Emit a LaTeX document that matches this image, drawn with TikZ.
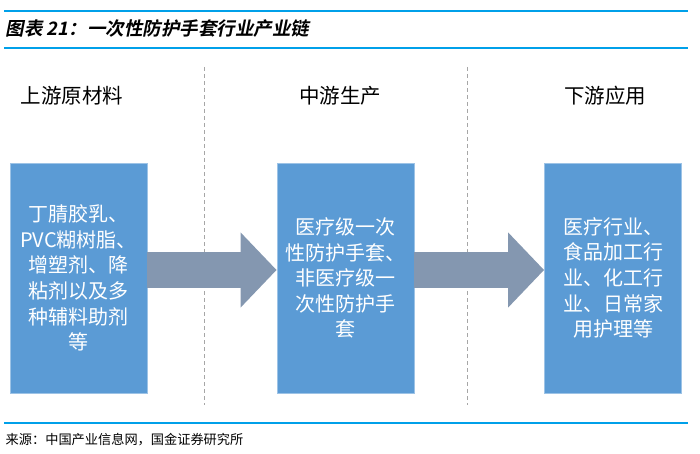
\documentclass[tikz,border=0pt]{standalone}
\usepackage{fontspec}
\setmainfont{Noto Sans CJK SC}
\newfontfamily\titlefont[FakeSlant=0.2]{Noto Sans CJK SC Bold}
\usetikzlibrary{arrows.meta}
\definecolor{rulecol}{HTML}{00A0E9}
\definecolor{boxcol}{HTML}{5B9BD5}
\definecolor{arrowcol}{HTML}{8497B0}
\tikzset{every picture/.style={line width=0.75pt}}

\begin{document}
\begin{tikzpicture}[x=1pt, y=-1pt,
    stagebox/.style={rectangle, fill=boxcol, draw=boxcol!60!white, line width=0.8pt,
        minimum width=137pt, minimum height=230pt, inner sep=0pt,
        text=white, align=center, font=\fontsize{20}{25.6}\selectfont},
    stagehead/.style={font=\fontsize{20.5}{22}\selectfont},
    flow/.style={arrowcol, line width=36pt, -{Triangle[length=36pt, width=73pt]}},
    divider/.style={gray!70, line width=0.6pt, dash pattern=on 4pt off 3pt}]
        \useasboundingbox (0,0) rectangle (700,454);
        % title and rules
        \draw[rulecol, line width=2.5pt] (4,11) -- (688,11);
        \draw[rulecol, line width=2pt] (4,48) -- (688,48);
        \draw[rulecol, line width=2pt] (4,423) -- (688,423);
        \node[anchor=west, font=\titlefont\fontsize{18.5}{20}\selectfont] (title) at (2,29)
            {图表 21：一次性防护手套行业产业链};
        \node[anchor=west, font=\fontsize{13.2}{15}\selectfont] (source) at (2,440)
            {来源：中国产业信息网，国金证券研究所};
        % dividers
        \draw[divider] (204,67) -- (204,405);
        \draw[divider] (467,67) -- (467,405);
        % stage headings
        \node[stagehead] (h1) at (72,96)  {上游原材料};
        \node[stagehead] (h2) at (340,96) {中游生产};
        \node[stagehead] (h3) at (605,96) {下游应用};
        % stages
        \node[stagebox] (up)   at (78.5,278) {丁腈胶乳、\\PVC糊树脂、\\增塑剂、降\\粘剂以及多\\种辅料助剂\\等};
        \node[stagebox] (mid)  at (345.5,278) {医疗级一次\\性防护手套、\\非医疗级一\\次性防护手\\套};
        \node[stagebox] (down) at (613,278) {医疗行业、\\食品加工行\\业、化工行\\业、日常家\\用护理等};
        % flow arrows
        \draw[flow] ([yshift=8pt]up.east)  -- ([yshift=8pt]mid.west);
        \draw[flow] ([yshift=8pt]mid.east) -- ([yshift=8pt]down.west);
    \end{tikzpicture}
\end{document}
